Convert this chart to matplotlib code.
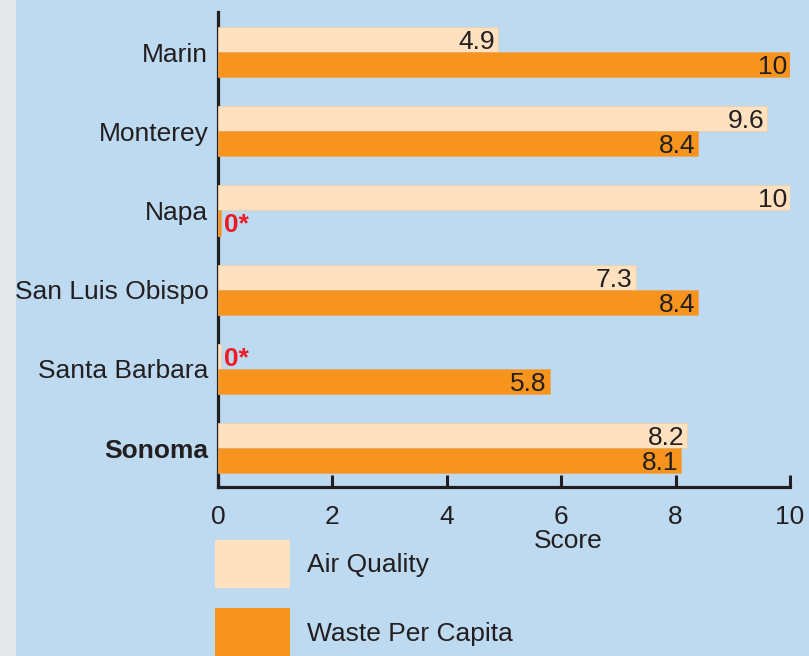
import matplotlib.pyplot as plt
from matplotlib.patches import Rectangle, Patch

# Scores by county
counties = ["Marin", "Monterey", "Napa", "San Luis Obispo", "Santa Barbara", "Sonoma"]
air_quality = [4.9, 9.6, 10, 7.3, 0, 8.2]
waste_per_capita = [10, 8.4, 0, 8.4, 5.8, 8.1]
x_ticks = [0, 2, 4, 6, 8, 10]

bg = "#BDDAF1"
air_color = "#FFE0BF"
waste_color = "#F7941D"
text_color = "#231F20"
red = "#ED1C24"
fs = 19

plt.rcParams["font.family"] = ["Liberation Sans", "DejaVu Sans"]

fig = plt.figure(figsize=(8.09, 6.56), dpi=100)
fig.patch.set_facecolor("#E6E7E9")
fig.patches.append(Rectangle((16 / 809, 0), 1, 1, transform=fig.transFigure,
                             facecolor=bg, edgecolor="none", zorder=-5))

ax = fig.add_axes([218 / 809, 1 - 487 / 656, 572 / 809, 475 / 656])
ax.set_facecolor(bg)

h = 0.316
ypos = list(range(len(counties)))
air_y = [y - h / 2 for y in ypos]
waste_y = [y + h / 2 for y in ypos]

# zero scores are shown as a thin sliver
air_draw = [v if v > 0 else 0.05 for v in air_quality]
waste_draw = [v if v > 0 else 0.05 for v in waste_per_capita]

ax.barh(air_y, air_draw, height=h, color=air_color, edgecolor="#EBCFAE",
        linewidth=0.6, zorder=3, label="Air Quality")
ax.barh(waste_y, waste_draw, height=h, color=waste_color, edgecolor="#E8A860",
        linewidth=0.6, zorder=3, label="Waste Per Capita")

for ys, vals in [(air_y, air_quality), (waste_y, waste_per_capita)]:
    for y, v in zip(ys, vals):
        if v > 0:
            lbl = f"{v:g}"
            ax.text(v - 0.05, y + 0.03, lbl, ha="right", va="center",
                    fontsize=fs, color=text_color, zorder=4)
        else:
            ax.text(0.1, y + 0.03, "0*", ha="left", va="center", fontsize=fs,
                    fontweight="bold", color=red, zorder=4)

ax.set_xlim(0, 10)
ax.set_ylim(5.49, -0.505)
ax.set_xticks(x_ticks)
ax.set_xticklabels([str(t) for t in x_ticks])
ax.set_yticks(ypos)
ax.set_yticklabels(counties)
ax.get_yticklabels()[-1].set_fontweight("bold")

ax.tick_params(axis="x", direction="in", length=9, width=2.2, pad=13,
               labelsize=fs, colors=text_color)
ax.tick_params(axis="y", length=0, pad=7, labelsize=fs, colors=text_color)

for s in ["top", "right"]:
    ax.spines[s].set_visible(False)
for s in ["left", "bottom"]:
    ax.spines[s].set_linewidth(2.3)
    ax.spines[s].set_color(text_color)
    ax.spines[s].set_zorder(2)

ax.set_xlabel("Score", fontsize=fs, color=text_color)
ax.xaxis.set_label_coords(0.612, -0.088)

handles = [Patch(facecolor=air_color, edgecolor="none"),
           Patch(facecolor=waste_color, edgecolor="none")]
fig.legend(handles, ["Air Quality", "Waste Per Capita"], loc="upper left",
           bbox_to_anchor=(215 / 809, 1 - 540 / 656), frameon=False,
           fontsize=fs, handlelength=2.85, handleheight=2.45, handletextpad=0.65,
           labelspacing=0.75, borderpad=0, borderaxespad=0, labelcolor=text_color)

plt.savefig("out.png", dpi=100, facecolor=fig.get_facecolor())
